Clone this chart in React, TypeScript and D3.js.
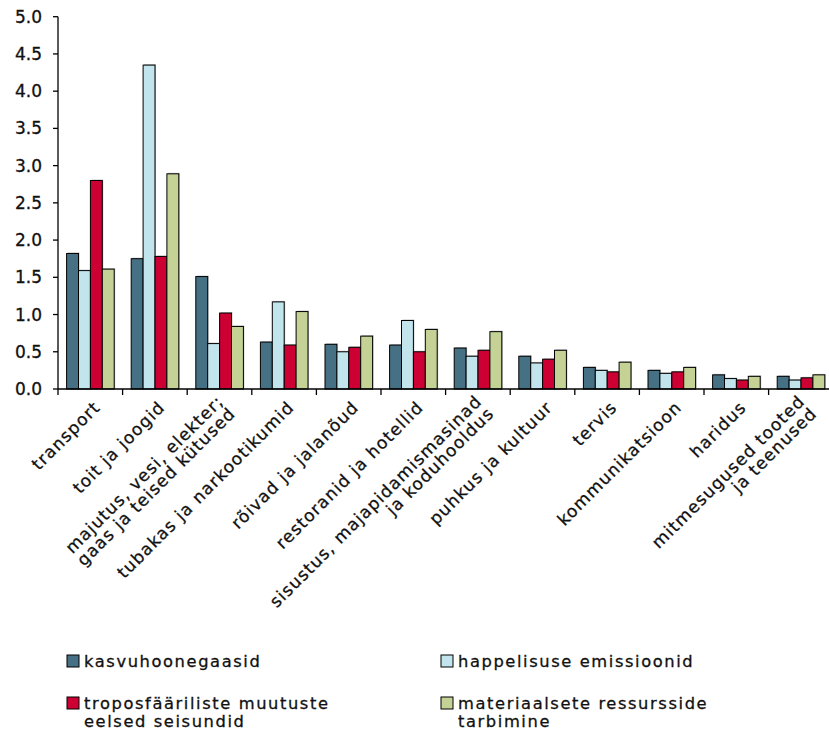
import React from "react";
import * as d3 from "d3";

const categories: string[][] = [
  ["transport"],
  ["toit ja joogid"],
  ["majutus, vesi, elekter;", "gaas ja teised kütused"],
  ["tubakas ja narkootikumid"],
  ["rõivad ja jalanõud"],
  ["restoranid ja hotellid"],
  ["sisustus, majapidamismasinad", "ja koduhooldus"],
  ["puhkus ja kultuur"],
  ["tervis"],
  ["kommunikatsioon"],
  ["haridus"],
  ["mitmesugused tooted", "ja teenused"],
];

const seriesNames: string[][] = [
  ["kasvuhoonegaasid"],
  ["happelisuse emissioonid"],
  ["troposfääriliste muutuste", "eelsed seisundid"],
  ["materiaalsete ressursside", "tarbimine"],
];

const kasvuhoonegaasid = [1.82, 1.75, 1.51, 0.63, 0.6, 0.59, 0.55, 0.44, 0.29, 0.25, 0.19, 0.17];
const happelisus = [1.59, 4.35, 0.61, 1.17, 0.5, 0.92, 0.44, 0.35, 0.25, 0.21, 0.14, 0.12];
const troposfaar = [2.8, 1.78, 1.02, 0.59, 0.56, 0.5, 0.52, 0.4, 0.23, 0.23, 0.12, 0.15];
const materiaal = [1.61, 2.89, 0.84, 1.04, 0.71, 0.8, 0.77, 0.52, 0.36, 0.29, 0.17, 0.19];

const seriesValues = [kasvuhoonegaasid, happelisus, troposfaar, materiaal];
const colors = ["#467083", "#c2e4ec", "#cc0033", "#c4d296"];

const yTicks = [0, 0.5, 1, 1.5, 2, 2.5, 3, 3.5, 4, 4.5, 5];

export default function App() {
  const W = 829;
  const H = 730;
  const x0 = 58;
  const yBottom = 389;
  const yTop = 16.7;
  const step = 64.6;

  const y = d3.scaleLinear().domain([0, 5]).range([yBottom, yTop]);
  const idx = categories.map((_, i) => String(i));
  const x = d3
    .scaleBand<string>()
    .domain(idx)
    .range([x0, x0 + step * categories.length])
    .padding(0);
  const inner = d3
    .scaleBand<string>()
    .domain(seriesValues.map((_, i) => String(i)))
    .range([8.6, 8.6 + 47.6])
    .padding(0);

  const font = "'DejaVu Sans', Verdana, sans-serif";
  const axisEnd = W + 10;
  const xls = 1.1;
  const legLs = 1.6;
  const txt = "#111";

  return (
    <svg
      width={W}
      height={H}
      style={{ position: "absolute", left: 0, top: 0, background: "#fff" }}
      fontFamily={font}
    >
      <rect x={0} y={0} width={W} height={H} fill="#fff" />
      {/* bars */}
      {categories.map((_, ci) => (
        <g key={ci} transform={`translate(${x(String(ci))},0)`}>
          {seriesValues.map((vals, si) => {
            const bx = inner(String(si))!;
            const bw = inner.bandwidth();
            const top = y(vals[ci]);
            const h = yBottom - top;
            return (
              <g key={si}>
                <rect
                  x={bx + 1}
                  y={top - 1}
                  width={bw}
                  height={h}
                  fill="#999"
                  opacity={0.6}
                />
                <rect
                  x={bx}
                  y={top}
                  width={bw}
                  height={h}
                  fill={colors[si]}
                  stroke="#000"
                  strokeWidth={1}
                />
              </g>
            );
          })}
        </g>
      ))}
      {/* y axis */}
      <line x1={x0} x2={x0} y1={yTop} y2={yBottom} stroke="#000" strokeWidth={1.3} />
      {yTicks.map((t) => (
        <g key={t}>
          <line x1={x0 - 5} x2={x0} y1={y(t)} y2={y(t)} stroke="#000" strokeWidth={1.3} />
          <text
            x={42}
            y={y(t)}
            textAnchor="end"
            dominantBaseline="central"
            fontSize={17}
            fill={txt}
            stroke={txt}
            strokeWidth={0.3}
          >
            {t.toFixed(1)}
          </text>
        </g>
      ))}
      {/* x axis */}
      <line x1={x0} x2={axisEnd} y1={yBottom} y2={yBottom} stroke="#000" strokeWidth={1.3} />
      {d3.range(categories.length + 1).map((i) => (
        <line
          key={i}
          x1={x0 + i * step}
          x2={x0 + i * step}
          y1={yBottom}
          y2={yBottom + 6}
          stroke="#000"
          strokeWidth={1.3}
        />
      ))}
      {categories.map((lines, ci) => {
        const cx = x(String(ci))! + x.bandwidth() / 2;
        const lh = 17;
        return (
          <text
            key={ci}
            transform={`translate(${cx + 6},${405}) rotate(-45)`}
            textAnchor="end"
            fontSize={17}
            letterSpacing={xls}
            fill={txt}
            stroke={txt}
            strokeWidth={0.3}
          >
            {lines.map((ln, li) => (
              <tspan
                key={li}
                x={xls}
                y={(li - (lines.length - 1) / 2) * lh}
                dominantBaseline="central"
              >
                {ln}
              </tspan>
            ))}
          </text>
        );
      })}
      {/* legend */}
      {seriesNames.map((lines, si) => {
        const col = si % 2;
        const row = Math.floor(si / 2);
        const lx = col === 0 ? 67 : 441;
        const ly = row === 0 ? 655 : 697;
        return (
          <g key={si}>
            <rect
              x={lx}
              y={ly}
              width={12}
              height={12}
              fill={colors[si]}
              stroke="#000"
              strokeWidth={1}
            />
            {lines.map((ln, li) => (
              <text
                key={li}
                x={lx + 17}
                y={ly + 11.5 + li * 18.5}
                fontSize={16.3}
                letterSpacing={legLs}
                fill={txt}
                stroke={txt}
                strokeWidth={0.3}
              >
                {ln}
              </text>
            ))}
          </g>
        );
      })}
    </svg>
  );
}
